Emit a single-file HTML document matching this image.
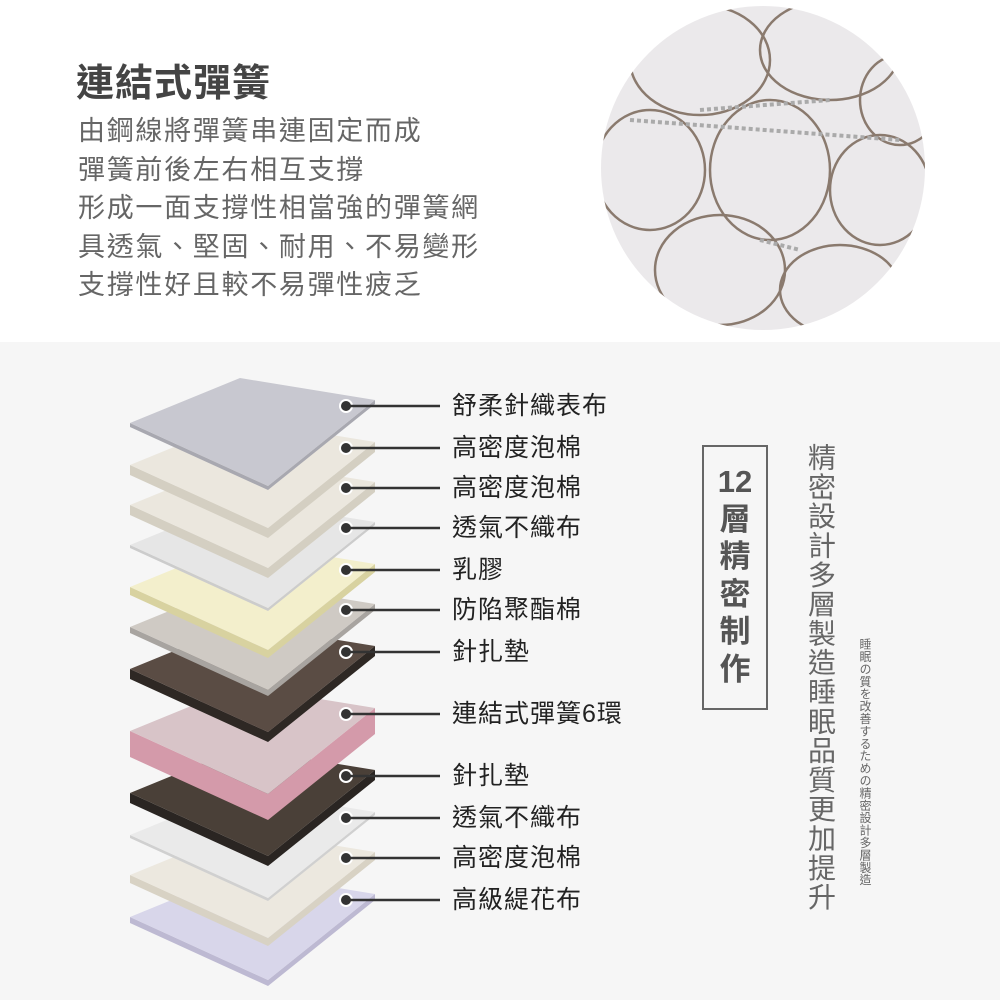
<!DOCTYPE html>
<html><head><meta charset="utf-8"><style>
body{margin:0;width:1000px;height:1000px;position:relative;overflow:hidden;background:#fff;font-family:"Liberation Sans","Noto Sans CJK TC",sans-serif;}
.bot{position:absolute;left:0;top:342px;width:1000px;height:658px;background:#f6f6f6;}
.t{position:absolute;color:#555;}
.lab{position:absolute;left:452px;font-size:25px;letter-spacing:1px;color:#222;line-height:24px;}
.v{position:absolute;writing-mode:vertical-rl;color:#666;}
</style></head><body>
<div class="bot"></div>
<div class="t" style="left:76px;top:52px;font-size:38px;font-weight:bold;color:#444;letter-spacing:1px;">連結式彈簧</div>
<div class="t" style="left:78px;top:112px;font-size:27px;letter-spacing:1.7px;line-height:38.5px;color:#666;">由鋼線將彈簧串連固定而成<br>彈簧前後左右相互支撐<br>形成一面支撐性相當強的彈簧網<br>具透氣、堅固、耐用、不易變形<br>支撐性好且較不易彈性疲乏</div>
<svg style="position:absolute;left:0;top:0" width="1000" height="1000">
<defs><clipPath id="c"><circle cx="763" cy="168" r="162"/></clipPath></defs>
<circle cx="763" cy="168" r="162" fill="#ebe9eb"/>
<g clip-path="url(#c)" fill="none" stroke="#8a7a6e" stroke-width="2.5">
<ellipse cx="700" cy="60" rx="70" ry="55"/><ellipse cx="830" cy="50" rx="70" ry="50"/>
<ellipse cx="650" cy="170" rx="55" ry="60"/><ellipse cx="770" cy="170" rx="60" ry="70"/>
<ellipse cx="880" cy="190" rx="50" ry="55"/><ellipse cx="720" cy="270" rx="65" ry="55"/>
<ellipse cx="840" cy="290" rx="60" ry="45"/><ellipse cx="900" cy="100" rx="40" ry="45"/>
<path d="M700 110 L830 100 M760 240 L800 250 M630 120 L900 140" stroke="#aaa" stroke-width="4" stroke-dasharray="4 3"/>
</g>
<g id="layers"></g>
<g stroke="#333" stroke-width="2.5">
<line x1="346" y1="406" x2="440" y2="406"/><line x1="346" y1="448" x2="440" y2="448"/>
<line x1="346" y1="488" x2="440" y2="488"/><line x1="346" y1="528" x2="440" y2="528"/>
<line x1="346" y1="570" x2="440" y2="570"/><line x1="346" y1="610" x2="440" y2="610"/>
<line x1="346" y1="652" x2="440" y2="652"/><line x1="346" y1="714" x2="440" y2="714"/>
<line x1="346" y1="776" x2="440" y2="776"/><line x1="346" y1="818" x2="440" y2="818"/>
<line x1="346" y1="858" x2="440" y2="858"/><line x1="346" y1="900" x2="440" y2="900"/>
</g>
<rect x="703" y="446" width="64" height="263" fill="none" stroke="#666" stroke-width="2"/>
</svg>
<div class="lab" style="top:394px">舒柔針織表布</div>
<div class="lab" style="top:436px">高密度泡棉</div>
<div class="lab" style="top:476px">高密度泡棉</div>
<div class="lab" style="top:516px">透氣不織布</div>
<div class="lab" style="top:558px">乳膠</div>
<div class="lab" style="top:598px">防陷聚酯棉</div>
<div class="lab" style="top:640px">針扎墊</div>
<div class="lab" style="top:702px">連結式彈簧6環</div>
<div class="lab" style="top:764px">針扎墊</div>
<div class="lab" style="top:806px">透氣不織布</div>
<div class="lab" style="top:846px">高密度泡棉</div>
<div class="lab" style="top:888px">高級緹花布</div>
<div class="t" style="left:703px;top:463px;width:64px;text-align:center;font-size:31px;font-weight:bold;line-height:37.5px;color:#555;">12<br>層<br>精<br>密<br>制<br>作</div>
<div class="v" style="left:804px;top:443px;font-size:28px;line-height:32px;letter-spacing:1.3px;">精密設計多層製造睡眠品質更加提升</div>
<div class="v" style="left:858px;top:638px;font-size:12px;line-height:14px;letter-spacing:0.4px;">睡眠の質を改善するための精密設計多層製造</div>
<script>
var ys=[900,858,818,776,714,652,610,570,528,488,448,406];
var col=["#d8d6ea","#ece8df","#eaeaea","#4a4038","#d8c4c8","#5a4c44","#cfcac4","#f3efcc","#e6e6e6","#ebe7de","#ebe7de","#c8c8d0"];
var side=["#bdb9d2","#d8d2c4","#d0d0d0","#2a2522","#d49aaa","#2e2824","#a8a4a0","#d8d2a0","#cccccc","#d4cfc2","#d4cfc2","#a8a8b0"];
var th=[6,8,3,10,26,10,6,8,3,10,10,4];
var g=document.getElementById('layers'),h='';
for(var i=0;i<12;i++){var c=ys[i],t=th[i];
var L=[130,c+17],B=[240,c-28],R=[375,c-6],F=[268,c+80];
h+='<polygon points="'+L+' '+F+' '+R+' '+[R[0],R[1]+t]+' '+[F[0],F[1]+t]+' '+[L[0],L[1]+t]+'" fill="'+side[i]+'"/>';
h+='<polygon points="'+L+' '+B+' '+R+' '+F+'" fill="'+col[i]+'"/>';
h+='<circle cx="346" cy="'+ys[i]+'" r="6" fill="#333" stroke="#fff" stroke-width="2"/>';}
g.innerHTML=h;
</script>
</body></html>
